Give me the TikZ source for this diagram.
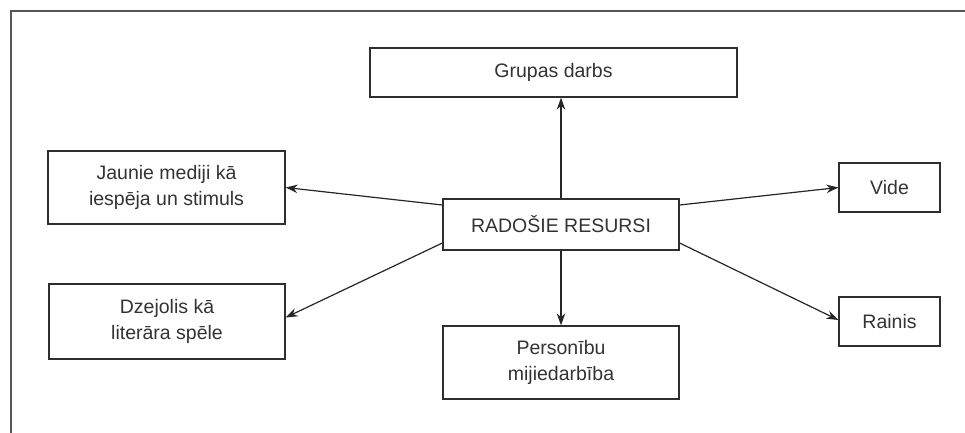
\documentclass[tikz,border=0pt]{standalone}
\usepackage{fontspec}
\setmainfont{Liberation Sans}
\usetikzlibrary{arrows.meta}
\definecolor{txt}{HTML}{333333}
\definecolor{edge}{HTML}{2E2E2E}
\definecolor{frame}{HTML}{555555}
\begin{document}
\begin{tikzpicture}[x=1pt,y=-1pt,
  box/.style={draw=edge,line width=1.3pt,fill=white,inner sep=0pt,align=center,
    text=txt,font=\fontsize{19.5}{26}\selectfont},
  conn/.style={draw=black!85,line width=1.2pt,-{Stealth[length=12pt,width=8.5pt]}}]
\useasboundingbox (0,0) rectangle (965,432);
\draw[frame,line width=2pt] (11,440) -- (11,11) -- (975,11);
\node[box,minimum width=367pt,minimum height=49pt] (G) at (553.5,72.5) {Grupas darbs};
\node[box,minimum width=236pt,minimum height=51pt] (C) at (561,224.5) {RADOŠIE RESURSI};
\node[box,minimum width=237pt,minimum height=73pt] (J) at (166.5,187.5) {Jaunie mediji kā\\iespēja un stimuls};
\node[box,minimum width=236pt,minimum height=75pt] (D) at (167,321.5) {Dzejolis kā\\literāra spēle};
\node[box,minimum width=101pt,minimum height=49pt] (V) at (889.5,187.5) {Vide};
\node[box,minimum width=101pt,minimum height=49pt] (R) at (889.5,321.5) {Rainis};
\node[box,minimum width=236pt,minimum height=73pt] (P) at (561,362.5) {Personību\\mijiedarbība};
\draw[conn] (C.north) -- (C.north |- G.south);
\draw[conn] (C.south) -- (P.north);
\draw[conn] ([yshift=19.5pt]C.west) -- (J.east);
\draw[conn] ([yshift=-18.5pt]C.west) -- ([yshift=4pt]D.east);
\draw[conn] ([yshift=19.5pt]C.east) -- (V.west);
\draw[conn] ([yshift=-18.5pt]C.east) -- ([yshift=1.5pt]R.west);
\end{tikzpicture}
\end{document}
